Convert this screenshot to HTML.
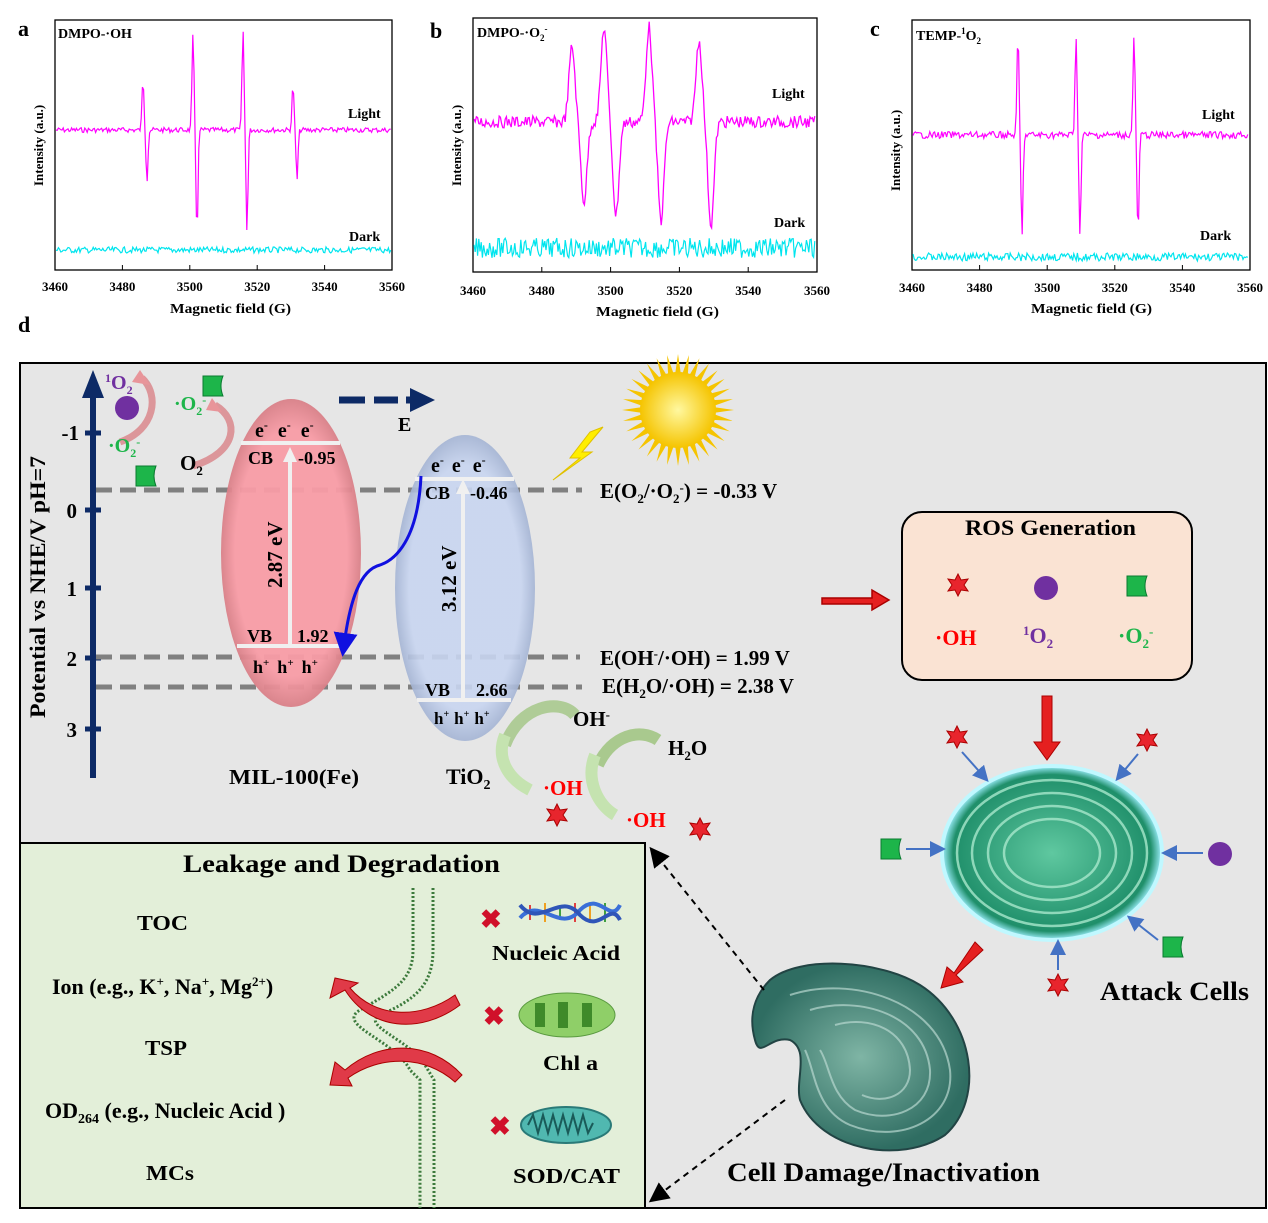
<!DOCTYPE html>
<html><head><meta charset="utf-8">
<style>
body{margin:0;background:#fff;}
svg{display:block;font-family:"Liberation Serif",serif;font-weight:bold;}
</style></head>
<body>
<svg id="s" width="1268" height="1223" viewBox="0 0 1268 1223" xmlns="http://www.w3.org/2000/svg">
<defs>
<radialGradient id="rg" cx="50%" cy="50%" r="50%"><stop offset="80%" stop-color="#f89ca6"/><stop offset="100%" stop-color="#d98088"/></radialGradient>
<radialGradient id="bg" cx="50%" cy="50%" r="50%"><stop offset="80%" stop-color="#c8d5f0"/><stop offset="100%" stop-color="#a4b4d4"/></radialGradient>
<radialGradient id="sun" cx="50%" cy="50%" r="50%"><stop offset="0%" stop-color="#fff8a0"/><stop offset="100%" stop-color="#f5c400"/></radialGradient>
<radialGradient id="cell" cx="50%" cy="50%" r="50%"><stop offset="0%" stop-color="#5fc8a0"/><stop offset="90%" stop-color="#1f8f6a"/><stop offset="100%" stop-color="#a0f0ff"/></radialGradient>
<radialGradient id="cell2" cx="50%" cy="50%" r="50%"><stop offset="0%" stop-color="#7fb5a5"/><stop offset="100%" stop-color="#2f6d62"/></radialGradient>
<marker id="ah" markerWidth="8" markerHeight="8" refX="6" refY="4" orient="auto"><path d="M0,0 L8,4 L0,8z" fill="#4472c4"/></marker>
<marker id="ak" markerWidth="10" markerHeight="10" refX="8" refY="5" orient="auto"><path d="M0,0 L10,5 L0,10z" fill="#000"/></marker>
<marker id="abl" markerWidth="8" markerHeight="8" refX="4" refY="4" orient="auto"><path d="M0,0 L8,4 L0,8z" fill="#1010e0"/></marker>
<g id="star"><path d="M0,-11 L3,-5 L10,-6 L6,0 L10,6 L3,5 L0,11 L-3,5 L-10,6 L-6,0 L-10,-6 L-3,-5z" fill="#e8252d" stroke="#a00" stroke-width="1"/></g>
<g id="o2m"><path d="M-10,-10 L10,-10 Q6,0 10,10 L-10,10z" fill="#1db54a" stroke="#0a7a30"/></g>
</defs>

<text x="18" y="36" font-size="22">a</text>
<text x="430" y="38" font-size="22">b</text>
<text x="870" y="36" font-size="22">c</text>
<text x="18" y="332" font-size="22">d</text>

<rect x="55" y="20" width="337" height="250" fill="none" stroke="#000" stroke-width="1.3"/>
<rect x="473" y="18" width="344" height="254" fill="none" stroke="#000" stroke-width="1.3"/>
<rect x="912" y="20" width="338" height="250" fill="none" stroke="#000" stroke-width="1.3"/>
<g id="traces"></g>
<g font-size="14">
<text x="58" y="38">DMPO-·OH</text>
<text x="348" y="118">Light</text><text x="349" y="241">Dark</text>
<text x="477" y="37">DMPO-·O<tspan font-size="9" dy="4">2</tspan><tspan font-size="9" dy="-9">-</tspan></text>
<text x="772" y="98">Light</text><text x="774" y="227">Dark</text>
<text x="916" y="40">TEMP-<tspan font-size="9" dy="-6">1</tspan><tspan dy="6">O</tspan><tspan font-size="9" dy="4">2</tspan></text>
<text x="1202" y="119">Light</text><text x="1200" y="240">Dark</text>
<text x="43" y="186" transform="rotate(-90 43 186)" font-size="13">Intensity (a.u.)</text>
<text x="461" y="186" transform="rotate(-90 461 186)" font-size="13">Intensity (a.u.)</text>
<text x="900" y="191" transform="rotate(-90 900 191)" font-size="13">Intensity (a.u.)</text>
<text x="170" y="313" textLength="121" lengthAdjust="spacingAndGlyphs">Magnetic field (G)</text>
<text x="596" y="316" textLength="123" lengthAdjust="spacingAndGlyphs">Magnetic field (G)</text>
<text x="1031" y="313" textLength="121" lengthAdjust="spacingAndGlyphs">Magnetic field (G)</text>
</g>
<g id="ticks" font-size="13"></g>

<rect x="20" y="363" width="1246" height="845" fill="#e6e6e6" stroke="#000" stroke-width="2"/>
<rect x="20" y="843" width="625" height="365" fill="#e3efd9" stroke="#000" stroke-width="2"/>

<line x1="93" y1="778" x2="93" y2="395" stroke="#0d2a66" stroke-width="6"/>
<path d="M82,398 L93,370 L104,398z" fill="#0d2a66"/>
<g stroke="#0d2a66" stroke-width="5"><line x1="85" y1="433" x2="101" y2="433"/><line x1="85" y1="510" x2="101" y2="510"/><line x1="85" y1="588" x2="101" y2="588"/><line x1="85" y1="658" x2="101" y2="658"/><line x1="85" y1="729" x2="101" y2="729"/></g>
<g font-size="21" text-anchor="end"><text x="79" y="440">-1</text><text x="77" y="518">0</text><text x="77" y="596">1</text><text x="77" y="666">2</text><text x="77" y="737">3</text></g>
<text x="45" y="718" font-size="22" transform="rotate(-90 45 718)" textLength="262" lengthAdjust="spacingAndGlyphs">Potential vs NHE/V pH=7</text>

<g stroke="#808080" stroke-width="5" stroke-dasharray="16,8">
<line x1="96" y1="490" x2="582" y2="490"/><line x1="96" y1="657" x2="580" y2="657"/><line x1="96" y1="687" x2="582" y2="687"/></g>

<ellipse cx="291" cy="553" rx="70" ry="154" fill="url(#rg)" fill-opacity="0.95"/>
<ellipse cx="465" cy="588" rx="70" ry="153" fill="url(#bg)" fill-opacity="0.9"/>
<g stroke="#f0f0f0" stroke-width="4">
<line x1="241" y1="443" x2="340" y2="443"/><line x1="237" y1="646" x2="343" y2="646"/>
<line x1="415" y1="479" x2="514" y2="479"/><line x1="417" y1="700" x2="511" y2="700"/>
<line x1="290" y1="646" x2="290" y2="458"/><line x1="463" y1="700" x2="463" y2="490"/></g>
<path d="M283,462 L290,447 L297,462z" fill="#f0f0f0"/><path d="M456,494 L463,479 L470,494z" fill="#f0f0f0"/>
<g font-size="20">
<text x="255" y="437">e<tspan font-size="12" dy="-8">-</tspan><tspan dy="8" dx="10">e</tspan><tspan font-size="12" dy="-8">-</tspan><tspan dy="8" dx="10">e</tspan><tspan font-size="12" dy="-8">-</tspan></text>
<text x="248" y="464" font-size="18">CB</text><text x="298" y="464" font-size="18">-0.95</text>
<text x="247" y="642" font-size="18">VB</text><text x="297" y="642" font-size="18">1.92</text>
<text x="253" y="673" font-size="18">h<tspan font-size="11" dy="-7">+</tspan><tspan dy="7" dx="8">h</tspan><tspan font-size="11" dy="-7">+</tspan><tspan dy="7" dx="8">h</tspan><tspan font-size="11" dy="-7">+</tspan></text>
<text x="282" y="588" transform="rotate(-90 282 588)" font-size="21">2.87 eV</text>
<text x="431" y="472">e<tspan font-size="12" dy="-8">-</tspan><tspan dy="8" dx="8">e</tspan><tspan font-size="12" dy="-8">-</tspan><tspan dy="8" dx="8">e</tspan><tspan font-size="12" dy="-8">-</tspan></text>
<text x="425" y="499" font-size="18">CB</text><text x="470" y="499" font-size="18">-0.46</text>
<text x="425" y="696" font-size="18">VB</text><text x="476" y="696" font-size="18">2.66</text>
<text x="434" y="724" font-size="17">h<tspan font-size="10" dy="-7">+</tspan><tspan dy="7" dx="5">h</tspan><tspan font-size="10" dy="-7">+</tspan><tspan dy="7" dx="5">h</tspan><tspan font-size="10" dy="-7">+</tspan></text>
<text x="456" y="612" transform="rotate(-90 456 612)" font-size="21">3.12 eV</text>
<text x="229" y="784" font-size="21" textLength="130" lengthAdjust="spacingAndGlyphs">MIL-100(Fe)</text>
<text x="446" y="784" font-size="22">TiO<tspan font-size="14" dy="5">2</tspan></text>
<text x="398" y="431" font-size="20">E</text>
</g>
<path d="M421,476 C418,540 395,560 380,565 C360,570 350,600 344,645" fill="none" stroke="#1010e0" stroke-width="3" marker-end="url(#abl)"/>
<g stroke="#0d2a66" stroke-width="7"><line x1="339" y1="400" x2="365" y2="400"/><line x1="374" y1="400" x2="398" y2="400"/><line x1="406" y1="400" x2="412" y2="400"/></g>
<path d="M410,388 L435,400 L410,412z" fill="#0d2a66"/>

<circle cx="127" cy="408" r="12" fill="#7030a0"/>
<text x="105" y="389" font-size="20" fill="#7030a0"><tspan font-size="12" dy="-7">1</tspan><tspan dy="7">O</tspan><tspan font-size="12" dy="5">2</tspan></text>
<path d="M120,442 C155,430 160,395 142,378" fill="none" stroke="#d9878c" stroke-width="7" opacity="0.85"/><path d="M132,382 L140,370 L150,385z" fill="#e8959a"/>
<path d="M193,466 C238,452 240,420 215,405" fill="none" stroke="#d9878c" stroke-width="7" opacity="0.85"/><path d="M206,410 L212,398 L222,412z" fill="#e8959a"/>
<text x="108" y="452" font-size="20" fill="#1db54a">·O<tspan font-size="12" dy="5">2</tspan><tspan font-size="12" dy="-11">-</tspan></text>
<text x="174" y="410" font-size="20" fill="#1db54a">·O<tspan font-size="12" dy="5">2</tspan><tspan font-size="12" dy="-11">-</tspan></text>
<use href="#o2m" x="146" y="476"/><use href="#o2m" x="213" y="386"/>
<text x="180" y="470" font-size="21">O<tspan font-size="13" dy="5">2</tspan></text>

<g transform="translate(678,410)"><g id="rays"></g><circle r="38" fill="url(#sun)"/></g>
<path d="M603,427 L582,452 L592,452 L553,480 L580,458 L570,458 L590,432z" fill="#ffee00" stroke="#e0c000"/>

<g font-size="21">
<text x="600" y="498">E(O<tspan font-size="13" dy="5">2</tspan><tspan dy="-5">/·O</tspan><tspan font-size="13" dy="5">2</tspan><tspan font-size="13" dy="-11">-</tspan><tspan dy="6">) = -0.33 V</tspan></text>
<text x="600" y="665">E(OH<tspan font-size="13" dy="-7">-</tspan><tspan dy="7">/·OH) = 1.99 V</tspan></text>
<text x="602" y="693">E(H<tspan font-size="13" dy="5">2</tspan><tspan dy="-5">O/·OH) = 2.38 V</tspan></text>
<text x="573" y="726">OH<tspan font-size="13" dy="-7">-</tspan></text>
<text x="668" y="755">H<tspan font-size="13" dy="5">2</tspan><tspan dy="-5">O</tspan></text>
<text x="543" y="795" fill="#f00">·OH</text><text x="626" y="827" fill="#f00">·OH</text>
</g>
<path d="M505,745 C520,705 560,698 575,715" fill="none" stroke="#a9c98e" stroke-width="12" opacity="0.9"/>
<path d="M505,735 C495,760 510,780 530,790" fill="none" stroke="#c5e3b0" stroke-width="12"/>
<path d="M598,765 C612,735 640,728 658,740" fill="none" stroke="#a9c98e" stroke-width="12"/>
<path d="M595,755 C585,780 598,805 615,815" fill="none" stroke="#c5e3b0" stroke-width="12"/>
<use href="#star" x="557" y="815"/><use href="#star" x="700" y="829"/>

<path d="M822,598 L872,598 L872,590 L889,600 L872,610 L872,604 L822,604z" fill="#e52020" stroke="#a00" stroke-width="1.5"/>
<rect x="902" y="512" width="290" height="168" rx="20" fill="#fae3d3" stroke="#000" stroke-width="2"/>
<text x="965" y="535" font-size="22" textLength="171" lengthAdjust="spacingAndGlyphs">ROS Generation</text>
<use href="#star" x="958" y="585"/><circle cx="1046" cy="588" r="12" fill="#7030a0"/><use href="#o2m" x="1137" y="586"/>
<text x="935" y="645" font-size="22" fill="#f00">·OH</text>
<text x="1023" y="643" font-size="22" fill="#7030a0"><tspan font-size="13" dy="-8">1</tspan><tspan dy="8">O</tspan><tspan font-size="13" dy="5">2</tspan></text>
<text x="1118" y="643" font-size="22" fill="#1db54a">·O<tspan font-size="13" dy="5">2</tspan><tspan font-size="13" dy="-12">-</tspan></text>
<path d="M1042,696 L1052,696 L1052,742 L1060,742 L1047,760 L1034,742 L1042,742z" fill="#e52020" stroke="#a00"/>

<ellipse cx="1052" cy="853" rx="110" ry="87" fill="url(#cell)" stroke="#c0f8ff" stroke-width="4"/>
<g fill="none" stroke="#a8e8cc" stroke-width="2.5" opacity="0.8">
<ellipse cx="1052" cy="853" rx="95" ry="73"/><ellipse cx="1052" cy="853" rx="80" ry="60"/><ellipse cx="1052" cy="853" rx="64" ry="47"/><ellipse cx="1052" cy="853" rx="48" ry="34"/></g>
<g stroke="#4472c4" stroke-width="2" marker-end="url(#ah)">
<line x1="962" y1="752" x2="986" y2="779"/><line x1="1138" y1="754" x2="1118" y2="778"/><line x1="906" y1="849" x2="942" y2="849"/>
<line x1="1203" y1="853" x2="1165" y2="853"/><line x1="1158" y1="940" x2="1130" y2="918"/><line x1="1058" y1="970" x2="1058" y2="943"/></g>
<use href="#star" x="957" y="737"/><use href="#star" x="1147" y="740"/><use href="#o2m" x="891" y="849"/>
<circle cx="1220" cy="854" r="12" fill="#7030a0"/><use href="#o2m" x="1173" y="947"/><use href="#star" x="1058" y="985"/>
<text x="1100" y="1000" font-size="26" textLength="149" lengthAdjust="spacingAndGlyphs">Attack Cells</text>
<path d="M975,942 L983,950 L956,975 L963,982 L941,988 L947,967 L954,973z" fill="#e52020" stroke="#a00"/>

<path d="M770,980 C800,955 880,960 920,985 C975,1020 985,1100 945,1135 C900,1165 820,1150 800,1100 C795,1080 810,1050 790,1040 C770,1035 760,1060 755,1040 C748,1015 755,995 770,980z" fill="url(#cell2)" stroke="#244" stroke-width="2"/>
<g fill="none" stroke="#b8d8d0" stroke-width="2" opacity="0.7">
<path d="M790,995 C850,975 940,1000 950,1070 C955,1120 900,1145 850,1125 C815,1110 815,1070 805,1050"/>
<path d="M810,1010 C860,995 925,1015 930,1070 C932,1110 890,1125 855,1110 C830,1095 830,1065 820,1050"/>
<path d="M835,1025 C870,1015 908,1030 910,1070 C910,1095 885,1105 862,1095"/></g>
<text x="727" y="1181" font-size="26" textLength="313" lengthAdjust="spacingAndGlyphs">Cell Damage/Inactivation</text>
<line x1="764" y1="990" x2="652" y2="850" stroke="#000" stroke-width="2" stroke-dasharray="6,5" marker-end="url(#ak)"/>
<line x1="785" y1="1100" x2="652" y2="1200" stroke="#000" stroke-width="2" stroke-dasharray="6,5" marker-end="url(#ak)"/>

<text x="183" y="872" font-size="25" textLength="317" lengthAdjust="spacingAndGlyphs">Leakage and Degradation</text>
<g font-size="21">
<text x="137" y="930" textLength="51" lengthAdjust="spacingAndGlyphs">TOC</text>
<text x="52" y="994" font-size="22">Ion (e.g., K<tspan font-size="13" dy="-8">+</tspan><tspan dy="8">, Na</tspan><tspan font-size="13" dy="-8">+</tspan><tspan dy="8">, Mg</tspan><tspan font-size="13" dy="-8">2+</tspan><tspan dy="8">)</tspan></text>
<text x="145" y="1055" textLength="42" lengthAdjust="spacingAndGlyphs">TSP</text>
<text x="45" y="1118" font-size="22">OD<tspan font-size="14" dy="5">264</tspan><tspan dy="-5"> (e.g., Nucleic Acid )</tspan></text>
<text x="146" y="1180" textLength="48" lengthAdjust="spacingAndGlyphs">MCs</text>
<text x="492" y="960" textLength="128" lengthAdjust="spacingAndGlyphs">Nucleic Acid</text>
<text x="543" y="1070" textLength="55" lengthAdjust="spacingAndGlyphs">Chl a</text>
<text x="513" y="1183" textLength="107" lengthAdjust="spacingAndGlyphs">SOD/CAT</text>
</g>
<g fill="none" stroke="#3c7a3c" stroke-width="3" stroke-dasharray="2,2">
<path d="M413,888 L413,950 C413,980 395,990 360,1010 C335,1025 395,1040 410,1070 L420,1080 L420,1208"/>
<path d="M433,888 L433,950 C433,985 415,1000 380,1015 C360,1025 410,1040 425,1065 L434,1080 L434,1208"/></g>
<path d="M460,1005 C420,1035 370,1030 345,990 L330,998 L335,978 L358,983 L350,988 C375,1018 420,1020 455,995z" fill="#e03a48" stroke="#a00"/>
<path d="M462,1075 C430,1040 380,1040 345,1070 L335,1062 L330,1085 L352,1086 L348,1078 C380,1055 425,1055 455,1082z" fill="#e03a48" stroke="#a00"/>
<g font-size="26" fill="#d0102a"><text x="480" y="928">✖</text><text x="483" y="1025">✖</text><text x="489" y="1135">✖</text></g>
<g stroke-width="2"><line x1="530" y1="905" x2="530" y2="920" stroke="#e04040"/><line x1="545" y1="903" x2="545" y2="922" stroke="#f0a020"/><line x1="560" y1="905" x2="560" y2="920" stroke="#40a040"/><line x1="575" y1="903" x2="575" y2="922" stroke="#e04040"/><line x1="590" y1="905" x2="590" y2="920" stroke="#f0a020"/><line x1="605" y1="903" x2="605" y2="922" stroke="#40a040"/></g>
<path d="M520,918 C540,895 560,935 580,910 C600,890 610,925 620,905" fill="none" stroke="#3a6fd8" stroke-width="4"/>
<path d="M520,905 C540,930 560,890 580,915 C600,935 610,900 620,920" fill="none" stroke="#2f55b8" stroke-width="4"/>
<ellipse cx="567" cy="1015" rx="48" ry="22" fill="#8fcf68" stroke="#5a9a40"/>
<g fill="#3f8a2a"><rect x="535" y="1003" width="10" height="24"/><rect x="558" y="1002" width="10" height="26"/><rect x="582" y="1003" width="10" height="24"/></g>
<ellipse cx="566" cy="1125" rx="45" ry="18" fill="#50b8b0" stroke="#2a7a78" stroke-width="2"/>
<path d="M528,1125 l5,-10 l5,18 l5,-18 l5,18 l5,-18 l5,18 l5,-18 l5,18 l5,-18 l5,18 l5,-18 l5,18 l5,-10" fill="none" stroke="#1a5a58" stroke-width="2"/>
</svg>
<script>
(function(){
var NS="http://www.w3.org/2000/svg",g=document.getElementById("traces");
var seed=7;function r(){seed=(seed*9301+49297)%233280;return seed/233280-0.5;}
function add(d,c,w){var p=document.createElementNS(NS,"path");p.setAttribute("d",d);p.setAttribute("fill","none");p.setAttribute("stroke",c);p.setAttribute("stroke-width",w||1.2);g.appendChild(p);}
function trace(x0,x1,base,amp,peaks,w){var d="";for(var x=x0;x<=x1;x+=1.2){var y=base+r()*amp;for(var i=0;i<peaks.length;i++){var p=peaks[i];y+=-(p[1])*Math.exp(-Math.pow((x-p[0]+p[3])/p[3],2)*2)+(p[2])*Math.exp(-Math.pow((x-p[0]-p[3])/p[3],2)*2);}d+=(d?"L":"M")+x.toFixed(1)+","+y.toFixed(1);}add(d,"#ff00ff",w);}
function dark(x0,x1,base,amp){var d="";for(var x=x0;x<=x1;x+=1.2){d+=(d?"L":"M")+x.toFixed(1)+","+(base+r()*amp).toFixed(1);}add(d,"#00e5ee",1.2);}
trace(56,391,130,5,[[145,50,50,2],[195,95,102,2],[245,100,100,2],[295,45,50,2]]);
dark(56,391,250,6);
trace(474,816,122,12,[[578,75,80,6],[610,95,93,6],[655,95,98,6],[705,82,103,6]],1.3);
dark(474,816,248,20);
trace(913,1249,135,7,[[1020,100,103,2],[1078,100,100,2],[1136,100,100,2]]);
dark(913,1249,257,8);
var t=document.getElementById("ticks");
function ticks(x0,x1,y,ty){for(var i=0;i<=5;i++){var x=x0+(x1-x0)*i/5;var tx=document.createElementNS(NS,"text");tx.setAttribute("x",x);tx.setAttribute("y",ty);tx.setAttribute("text-anchor","middle");tx.textContent=3460+20*i;t.appendChild(tx);var l=document.createElementNS(NS,"line");l.setAttribute("x1",x);l.setAttribute("x2",x);l.setAttribute("y1",y);l.setAttribute("y2",y-5);l.setAttribute("stroke","#000");t.appendChild(l);}}
ticks(55,392,270,291);ticks(473,817,272,295);ticks(912,1250,270,292);
var rays=document.getElementById("rays");
for(var i=0;i<32;i++){var a=i*Math.PI/16,b=a+0.08,c=a-0.08;var p=document.createElementNS(NS,"path");p.setAttribute("d","M"+36*Math.cos(c)+","+36*Math.sin(c)+"L"+56*Math.cos(a)+","+56*Math.sin(a)+"L"+36*Math.cos(b)+","+36*Math.sin(b)+"z");p.setAttribute("fill","#f5c400");rays.appendChild(p);}
})();
</script>
</body></html>
